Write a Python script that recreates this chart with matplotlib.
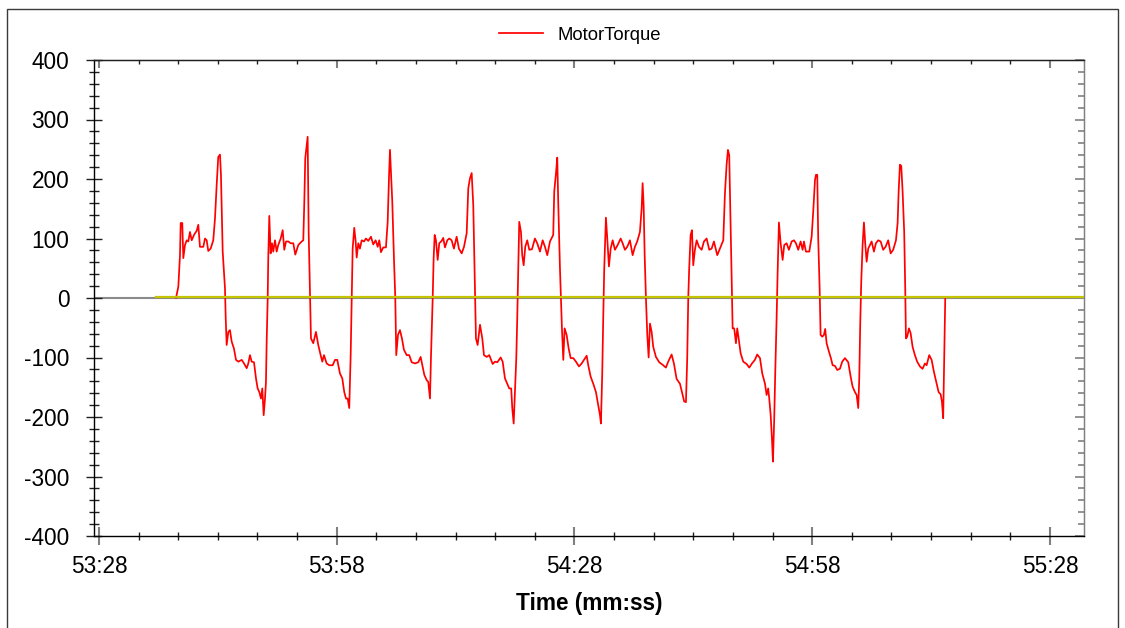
import numpy as np
import matplotlib.pyplot as plt
from matplotlib.ticker import FixedLocator, FuncFormatter, MultipleLocator
from matplotlib.patches import Rectangle

plt.rcParams['font.family'] = ['Liberation Sans', 'DejaVu Sans']
plt.rcParams['axes.unicode_minus'] = False

# ---- data -------------------------------------------------------------
T0 = 53 * 60 + 28          # 53:28 in seconds

# MotorTorque, time in seconds after 53:28
torque_t = [
    9.72, 10.01, 10.22, 10.31, 10.51, 10.64, 10.85, 11.07, 11.27, 11.48,
    11.70, 11.99, 12.33, 12.53, 12.74, 13.16, 13.38, 13.59, 13.79, 14.09,
    14.42, 14.64, 14.85, 15.05, 15.27, 15.39, 15.61, 15.90, 15.99, 16.11,
    16.32, 16.53, 16.74, 17.03, 17.29, 17.58, 18.01, 18.30, 18.64, 18.84,
    19.05, 19.27, 19.56, 19.81, 20.02, 20.23, 20.44, 20.61, 20.78, 20.95,
    21.07, 21.16, 21.29, 21.36, 21.49, 21.66, 21.83, 21.99, 22.21, 22.42,
    22.62, 22.93, 23.18, 23.38, 23.60, 23.89, 24.19, 24.52, 24.77, 25.15,
    25.58, 25.78, 25.91, 26.03, 26.21, 26.33, 26.46, 26.62, 26.75, 27.04,
    27.38, 27.67, 27.97, 28.18, 28.39, 28.73, 29.06, 29.49, 29.78, 30.07,
    30.41, 30.70, 30.95, 31.17, 31.38, 31.58, 31.76, 31.89, 32.01, 32.21,
    32.39, 32.52, 32.72, 32.93, 33.15, 33.44, 33.69, 33.98, 34.32, 34.61,
    34.91, 35.17, 35.37, 35.58, 35.87, 36.21, 36.43, 36.59, 36.72, 36.84,
    37.01, 37.22, 37.39, 37.51, 37.73, 37.98, 38.23, 38.48, 38.83, 39.15,
    39.46, 39.87, 40.29, 40.59, 40.84, 41.05, 41.35, 41.55, 41.77, 41.89,
    42.11, 42.23, 42.36, 42.52, 42.74, 42.94, 43.24, 43.44, 43.66, 43.95,
    44.20, 44.50, 44.79, 45.13, 45.42, 45.77, 46.06, 46.40, 46.60, 46.81,
    47.03, 47.23, 47.44, 47.57, 47.78, 48.08, 48.37, 48.58, 48.92, 49.25,
    49.68, 49.97, 50.26, 50.69, 50.94, 51.23, 51.52, 51.77, 52.02, 52.15,
    52.33, 52.49, 52.66, 52.78, 52.91, 53.03, 53.25, 53.41, 53.59, 53.79,
    54.04, 54.30, 54.64, 55.01, 55.30, 55.65, 55.99, 56.28, 56.57, 56.91,
    57.32, 57.45, 57.67, 57.83, 57.95, 58.17, 58.29, 58.42, 58.59, 58.76,
    59.01, 59.27, 59.52, 59.85, 60.19, 60.57, 60.91, 61.20, 61.54, 61.74,
    62.04, 62.37, 62.71, 63.00, 63.22, 63.34, 63.51, 63.63, 63.76, 63.97,
    64.14, 64.35, 64.57, 64.82, 65.11, 65.45, 65.83, 66.08, 66.37, 66.66,
    67.00, 67.34, 67.63, 67.92, 68.26, 68.48, 68.60, 68.73, 68.86, 69.02,
    69.19, 69.36, 69.53, 69.74, 69.94, 70.28, 70.70, 71.20, 71.54, 71.83,
    72.26, 72.55, 72.89, 73.31, 73.60, 73.85, 74.07, 74.23, 74.36, 74.48,
    74.66, 74.83, 74.99, 75.20, 75.42, 75.71, 76.05, 76.34, 76.68, 77.01,
    77.31, 77.60, 78.02, 78.45, 78.78, 78.99, 79.20, 79.37, 79.53, 79.71,
    79.87, 79.96, 80.16, 80.38, 80.54, 80.72, 80.97, 81.30, 81.73, 82.06,
    82.40, 82.77, 83.06, 83.41, 83.70, 84.04, 84.25, 84.45, 84.58, 84.76,
    84.92, 85.05, 85.21, 85.34, 85.51, 85.64, 85.80, 86.02, 86.27, 86.47,
    86.77, 87.06, 87.41, 87.70, 87.95, 88.24, 88.54, 88.79, 88.96, 89.21,
    89.63, 89.93, 90.13, 90.35, 90.47, 90.64, 90.76, 90.94, 91.06, 91.27,
    91.48, 91.64, 91.82, 92.11, 92.36, 92.58, 92.87, 93.16, 93.50, 93.79,
    94.13, 94.55, 94.85, 95.10, 95.39, 95.61, 95.81, 95.94, 96.06, 96.19,
    96.36, 96.53, 96.69, 96.87, 97.07, 97.29, 97.50, 97.79, 98.04, 98.33,
    98.64, 98.96, 99.26, 99.59, 99.90, 100.22, 100.57, 100.78, 100.91, 101.07,
    101.24, 101.41, 101.61, 101.74, 101.83, 101.99, 102.21, 102.42, 102.67, 102.96,
    103.25, 103.59, 103.93, 104.23, 104.44, 104.77, 105.07, 105.36, 105.70, 105.95,
    106.21, 106.37, 106.53, 106.66, 106.79,
]
torque_v = [
    0, 19, 72, 126, 126, 67, 89, 97, 95, 111,
    97, 106, 113, 123, 86, 86, 100, 97, 79, 83,
    97, 134, 190, 237, 241, 207, 78, 16, -34, -79,
    -57, -54, -73, -85, -104, -107, -104, -110, -118, -110,
    -96, -107, -108, -135, -152, -158, -169, -152, -197, -169,
    -141, -73, 0, 67, 138, 75, 92, 78, 97, 78,
    89, 100, 114, 81, 95, 95, 92, 92, 73, 89,
    95, 97, 162, 235, 257, 271, 111, 16, -68, -76,
    -57, -79, -96, -107, -96, -110, -113, -113, -104, -104,
    -127, -135, -158, -169, -169, -185, -96, 0, 83, 118,
    95, 68, 92, 83, 97, 95, 100, 96, 103, 90,
    97, 86, 97, 77, 85, 85, 128, 201, 249, 212,
    162, 67, 0, -96, -62, -54, -68, -87, -96, -96,
    -108, -110, -108, -99, -115, -129, -138, -141, -169, -101,
    0, 67, 106, 97, 64, 92, 96, 101, 85, 97,
    100, 97, 83, 103, 83, 75, 86, 109, 184, 201,
    210, 156, 16, -68, -79, -45, -68, -96, -99, -96,
    -111, -107, -108, -100, -107, -135, -144, -152, -152, -185,
    -211, -158, -101, -34, 47, 128, 111, 72, 55, 86,
    97, 81, 82, 100, 92, 78, 97, 86, 72, 95,
    106, 179, 210, 236, 162, 50, 0, -51, -104, -51,
    -62, -85, -101, -101, -107, -115, -110, -104, -97, -113,
    -132, -144, -158, -180, -197, -211, -124, -34, 50, 135,
    100, 53, 83, 97, 81, 89, 100, 92, 81, 86,
    97, 72, 86, 95, 111, 151, 193, 156, 72, 0,
    -62, -100, -43, -57, -82, -99, -108, -113, -117, -107,
    -95, -110, -136, -144, -160, -174, -175, -101, 0, 50,
    106, 114, 55, 81, 97, 86, 81, 95, 100, 81,
    83, 95, 72, 86, 97, 176, 224, 249, 240, 123,
    11, -51, -51, -76, -51, -68, -93, -107, -111, -117,
    -110, -104, -95, -101, -127, -144, -163, -152, -169, -197,
    -236, -275, -202, -124, -34, 44, 127, 92, 64, 89,
    92, 81, 95, 97, 92, 81, 95, 81, 95, 78,
    78, 103, 145, 198, 207, 207, 100, 16, -62, -65,
    -62, -52, -76, -90, -101, -113, -114, -121, -119, -107,
    -101, -108, -132, -149, -158, -163, -185, -135, -45, 27,
    89, 127, 92, 61, 83, 89, 95, 78, 92, 97,
    95, 81, 86, 97, 75, 81, 97, 126, 179, 224,
    222, 179, 111, 16, -68, -65, -51, -59, -82, -96,
    -107, -115, -119, -110, -113, -96, -104, -124, -144, -158,
    -162, -174, -202, -101, 0,
]

# second (near-zero) channel, shown in yellow
level_t = [7.19, 125.0]
level_v = [1.5, 1.5]

# ---- figure -----------------------------------------------------------
fig = plt.figure(figsize=(11.25, 6.28), dpi=100)
ax = fig.add_axes([94 / 1125, 1 - 536 / 628, 990 / 1125, 476 / 628])

# outer frame
fig.patches.append(Rectangle((7 / 1125, -0.05), 1111 / 1125, 1.05 - 9 / 628,
                             transform=fig.transFigure, fill=False,
                             edgecolor="#3a3a3a", lw=1.0))

ax.axhline(0, color="#8a8a8a", lw=1.5, zorder=1)
line, = ax.plot(T0 + np.array(torque_t), torque_v, color="#ff0000", lw=1.25,
                zorder=2, label="MotorTorque")
ax.plot(T0 + np.array(level_t), level_v, color="#c4c400", lw=1.6, zorder=3)

ax.set_xlim(T0 - 0.63, T0 + 124.3)
ax.set_ylim(-400, 400)

major_x = np.arange(T0, T0 + 121, 30)
minor_x = np.arange(T0, T0 + 121, 5)
mmss = FuncFormatter(lambda v, p: f"{int(round(v)) // 60}:{int(round(v)) % 60:02d}")

ax.xaxis.set_major_locator(FixedLocator(major_x))
ax.xaxis.set_minor_locator(FixedLocator(minor_x))
ax.xaxis.set_major_formatter(mmss)
ax.yaxis.set_major_locator(MultipleLocator(100))
ax.yaxis.set_minor_locator(MultipleLocator(20))

for s in ax.spines.values():
    s.set_linewidth(1.0)
ax.spines["right"].set_color("#808080")
ax.spines["top"].set_color("#202020")

ax.tick_params(axis="x", which="major", direction="inout", length=13,
               width=1.5, color="#808080", labelsize=16.3, pad=7)
ax.tick_params(axis="x", which="minor", direction="inout", length=6,
               width=1.0, color="#202020")
ax.tick_params(axis="y", which="major", direction="inout", length=11.5,
               width=1.0, color="#202020", labelsize=16.3, pad=12)
ax.tick_params(axis="y", which="minor", direction="inout", length=6.5,
               width=1.0, color="#202020")

# mirrored ticks on top / right
top = ax.secondary_xaxis("top")
top.xaxis.set_major_locator(FixedLocator(major_x))
top.xaxis.set_minor_locator(FixedLocator(minor_x))
top.tick_params(which="major", direction="in", length=6, width=1.5,
                color="#808080", labeltop=False)
top.tick_params(which="minor", direction="in", length=3, width=1.0,
                color="#202020")
top.spines["top"].set_color("#202020")

right = ax.secondary_yaxis("right")
right.yaxis.set_major_locator(MultipleLocator(100))
right.yaxis.set_minor_locator(MultipleLocator(20))
right.tick_params(which="major", direction="in", length=6.5, width=1.2,
                  color="#808080", labelright=False)
right.tick_params(which="minor", direction="in", length=4.5, width=1.2,
                  color="#808080")
right.spines["right"].set_color("#808080")

ax.set_xlabel("Time (mm:ss)", fontsize=16.3, fontweight="bold", labelpad=10)

fig.legend(handles=[line], loc="center", bbox_to_anchor=(580 / 1125, 1 - 35 / 628),
           frameon=False, fontsize=13.3, handlelength=2.4, handletextpad=0.8)

fig.savefig("out.png", dpi=100)
